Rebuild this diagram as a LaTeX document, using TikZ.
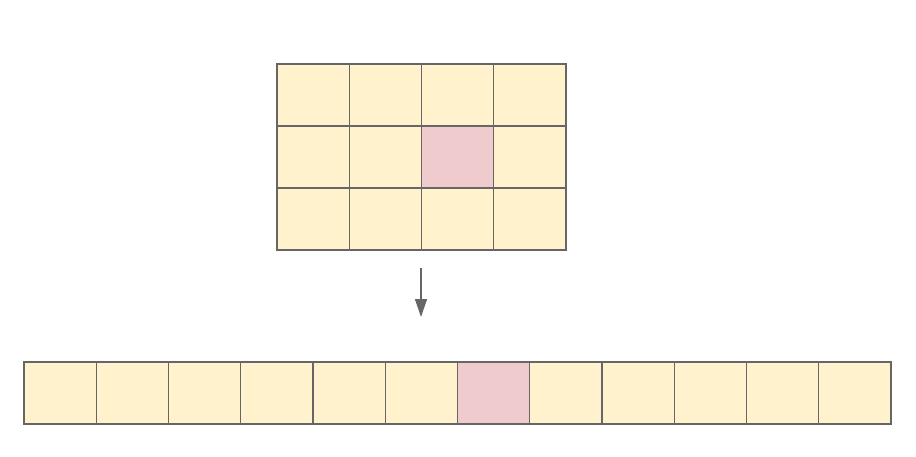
\documentclass[tikz,border=0pt]{standalone}
\usetikzlibrary{calc,arrows.meta}
\definecolor{cellyellow}{HTML}{FFF2CC}
\definecolor{cellpink}{HTML}{F0CBCD}
\definecolor{cellline}{HTML}{666666}
\tikzset {>=Stealth,
  cell/.style={draw=cellline, line width=1.4pt, fill=cellyellow,
    minimum width=72.25pt, minimum height=62pt,
    inner sep=0pt, outer sep=0pt},
  hot/.style={fill=cellpink}}

\begin{document}
\begin{tikzpicture}[x=1pt,y=-1pt]
\useasboundingbox (0,0) rectangle (916,456);
% 3x4 grid
\foreach \r in {0,1,2}
  \foreach \c in {0,1,2,3}
    \node[cell] (g-\r-\c) at ({277+72.25*(\c+0.5)},{64+62*(\r+0.5)}) {};
\node[cell,hot] at (g-1-2) {};
% flattened row
\foreach \i in {0,...,11}
  \node[cell] (f-\i) at ({24+72.25*(\i+0.5)},393) {};
\node[cell,hot] at (f-6) {};
\coordinate (from) at (421,268);
\coordinate (to) at (421,317);
\draw[cellline, line width=1.4pt, -{Triangle[width=12pt,length=18pt]}]
  (from) -- (to);
\end{tikzpicture}
\end{document}
